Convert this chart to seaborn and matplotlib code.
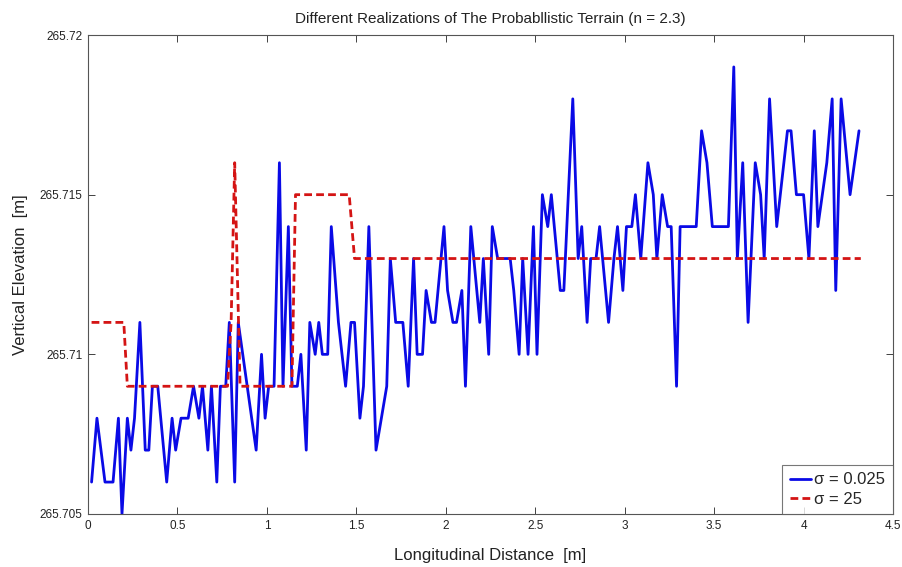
import numpy as np
import pandas as pd
import matplotlib
matplotlib.use("Agg")
import matplotlib.pyplot as plt
import seaborn as sns
from matplotlib.ticker import FuncFormatter, FixedLocator

# ---- data ----
blue_x = [0.02, 0.05, 0.095, 0.14, 0.17, 0.19, 0.22, 0.24, 0.26, 0.29, 0.32, 0.34, 0.36, 0.39,
          0.44, 0.47, 0.49, 0.52, 0.56, 0.59, 0.62, 0.64, 0.67, 0.69, 0.72, 0.74, 0.77, 0.79,
          0.82, 0.84, 0.89, 0.94, 0.97, 0.99, 1.01, 1.04, 1.07, 1.09, 1.12, 1.14, 1.17, 1.19,
          1.22, 1.24, 1.27, 1.29, 1.31, 1.34, 1.36, 1.40, 1.44, 1.47, 1.49, 1.52, 1.54, 1.57,
          1.61, 1.67, 1.69, 1.72, 1.76, 1.79, 1.82, 1.84, 1.87, 1.89, 1.92, 1.94, 1.99, 2.01,
          2.04, 2.06, 2.09, 2.11, 2.14, 2.19, 2.21, 2.24, 2.26, 2.29, 2.36, 2.38, 2.41, 2.43,
          2.46, 2.49, 2.51, 2.54, 2.57, 2.59, 2.64, 2.66, 2.71, 2.74, 2.76, 2.79, 2.81, 2.84,
          2.86, 2.91, 2.94, 2.96, 2.99, 3.01, 3.04, 3.06, 3.09, 3.13, 3.16, 3.18, 3.21, 3.24,
          3.26, 3.29, 3.31, 3.40, 3.43, 3.46, 3.49, 3.58, 3.61, 3.63, 3.66, 3.69, 3.73, 3.76,
          3.78, 3.81, 3.85, 3.91, 3.93, 3.96, 4.00, 4.03, 4.06, 4.08, 4.13, 4.16, 4.18, 4.21,
          4.26, 4.31]
blue_y = [265.706, 265.708, 265.706, 265.706, 265.708, 265.705, 265.708, 265.707, 265.708,
          265.711, 265.707, 265.707, 265.709, 265.709, 265.706, 265.708, 265.707, 265.708,
          265.708, 265.709, 265.708, 265.709, 265.707, 265.709, 265.706, 265.709, 265.709,
          265.711, 265.706, 265.711, 265.709, 265.707, 265.710, 265.708, 265.709, 265.709,
          265.716, 265.709, 265.714, 265.709, 265.709, 265.710, 265.707, 265.711, 265.710,
          265.711, 265.710, 265.710, 265.714, 265.711, 265.709, 265.711, 265.711, 265.708,
          265.709, 265.714, 265.707, 265.709, 265.713, 265.711, 265.711, 265.709, 265.713,
          265.710, 265.710, 265.712, 265.711, 265.711, 265.714, 265.712, 265.711, 265.711,
          265.712, 265.709, 265.714, 265.711, 265.713, 265.710, 265.714, 265.713, 265.713,
          265.712, 265.710, 265.713, 265.710, 265.714, 265.710, 265.715, 265.714, 265.715,
          265.712, 265.712, 265.718, 265.713, 265.714, 265.711, 265.713, 265.713, 265.714,
          265.711, 265.713, 265.714, 265.712, 265.714, 265.714, 265.715, 265.713, 265.716,
          265.715, 265.713, 265.715, 265.714, 265.714, 265.709, 265.714, 265.714, 265.717,
          265.716, 265.714, 265.714, 265.719, 265.713, 265.716, 265.711, 265.716, 265.715,
          265.713, 265.718, 265.714, 265.717, 265.717, 265.715, 265.715, 265.713, 265.717,
          265.714, 265.716, 265.718, 265.712, 265.718, 265.715, 265.717]

red_x = [0.02, 0.20, 0.22, 0.78, 0.80, 0.82, 0.85, 1.14, 1.16, 1.46, 1.49, 4.32]
red_y = [265.711, 265.711, 265.709, 265.709, 265.711, 265.716, 265.709, 265.709,
         265.715, 265.715, 265.713, 265.713]

labels = ["\u03c3 = 0.025", "\u03c3 = 25"]
x_ticks = [0, 0.5, 1, 1.5, 2, 2.5, 3, 3.5, 4, 4.5]
y_ticks = [265.705, 265.71, 265.715, 265.72]

title = "Different Realizations of The Probabllistic Terrain (n = 2.3)"
xlabel = "Longitudinal Distance  [m]"
ylabel = "Vertical Elevation  [m]"

# ---- plotting ----
sns.set_style("ticks")
plt.rcParams["font.family"] = ["Liberation Sans", "DejaVu Sans"]

df = pd.concat([
    pd.DataFrame({"x": blue_x, "y": blue_y, "s": labels[0]}),
    pd.DataFrame({"x": red_x, "y": red_y, "s": labels[1]}),
], ignore_index=True)

fig = plt.figure(figsize=(9.02, 5.67), dpi=100)
ax = fig.add_axes([88 / 902, 1 - 514 / 567, (893 - 88) / 902, (514 - 35) / 567])

sns.lineplot(data=df, x="x", y="y", hue="s", style="s",
             palette={labels[0]: "#0a0ae6", labels[1]: "#d41414"},
             dashes={labels[0]: "", labels[1]: (2.8, 1.5)},
             sort=False, estimator=None, linewidth=2.0, ax=ax)

ax.set_xlim(0, 4.5)
ax.set_ylim(265.705, 265.72)
ax.xaxis.set_major_locator(FixedLocator(x_ticks))
ax.yaxis.set_major_locator(FixedLocator(y_ticks))
fmt = FuncFormatter(lambda v, p: "%g" % round(v, 4))
ax.xaxis.set_major_formatter(fmt)
ax.yaxis.set_major_formatter(fmt)
ax.tick_params(direction="in", length=5, width=0.6, labelsize=8.5, colors="#222222",
               top=True, right=True, pad=4)
for sp in ax.spines.values():
    sp.set_visible(True)
    sp.set_linewidth(0.8)
    sp.set_color("#555555")

ax.set_title(title, fontsize=11, color="#222222", pad=9)
ax.set_xlabel(xlabel, fontsize=12, color="#222222", labelpad=12)
ax.set_ylabel(ylabel, fontsize=12, color="#222222", labelpad=8)

leg = ax.legend(loc="lower right", fontsize=12, frameon=True, fancybox=False,
                handlelength=1.3, handletextpad=0.2, borderpad=0.45,
                labelspacing=0.25, borderaxespad=0.0)
leg.get_frame().set_edgecolor("#555555")
leg.get_frame().set_linewidth(0.8)
leg.set_title(None)

fig.savefig("out.png", dpi=100)
